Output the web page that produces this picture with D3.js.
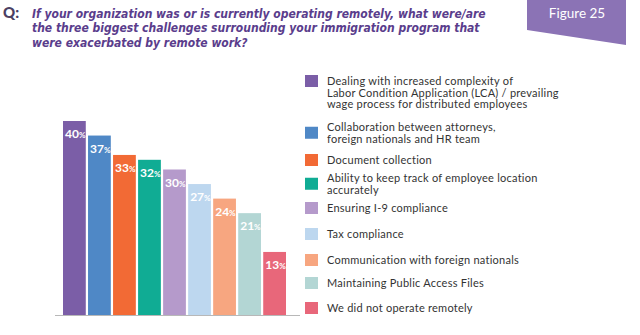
<!DOCTYPE html>
<html>
<head>
<meta charset="utf-8">
<script src="https://cdn.jsdelivr.net/npm/d3@7"></script>
<style>
  body { margin: 0; background: #fff; }
  svg { display: block; font-family: Lato, sans-serif; }
</style>
</head>
<body>
<svg id="chart" width="640" height="335"></svg>
<script>
// survey answers, one per bar
var categories = [
  ["Dealing with increased complexity of", "Labor Condition Application (LCA) / prevailing", "wage process for distributed employees"],
  ["Collaboration between attorneys,", "foreign nationals and HR team"],
  ["Document collection"],
  ["Ability to keep track of employee location", "accurately"],
  ["Ensuring I-9 compliance"],
  ["Tax compliance"],
  ["Communication with foreign nationals"],
  ["Maintaining Public Access Files"],
  ["We did not operate remotely"]
];
var values = [40, 37, 33, 32, 30, 27, 24, 21, 13];
var colors = ["#7b5ea7", "#4f88c6", "#f26a35", "#10ac94", "#b59acb", "#bdd7ef", "#f7a680", "#b3d6d4", "#e8677a"];

var titleLines = [
  "If your organization was or is currently operating remotely, what were/are",
  "the three biggest challenges surrounding your immigration program that",
  "were exacerbated by remote work?"
];
var figureLabel = "Figure 25";

var svg = d3.select("#chart");

// question header
svg.append("text")
    .attr("x", 3).attr("y", 18)
    .attr("fill", "#4b3f63")
    .style("font-weight", 900)
    .style("font-size", "15px")
    .text("Q:");

svg.append("g").selectAll("text")
    .data(titleLines)
  .enter().append("text")
    .attr("x", 32)
    .attr("y", function(d, i) { return 17.5 + i * 14.5; })
    .attr("fill", "#5a3d8c")
    .style("font-family", "'DejaVu Sans Condensed', 'DejaVu Sans', sans-serif")
    .style("font-stretch", "condensed")
    .style("font-weight", 700)
    .style("font-style", "italic")
    .style("font-size", "12px")
    .text(function(d) { return d; });

// figure tab
svg.append("polygon")
    .attr("points", "527,0 626,0 626,45 527,30")
    .attr("fill", "#8b73b5");
svg.append("text")
    .attr("x", 577).attr("y", 18)
    .attr("text-anchor", "middle")
    .attr("fill", "#fff")
    .style("font-size", "13.5px")
    .text(figureLabel);

// bars
var x = d3.scaleBand()
    .domain(d3.range(values.length))
    .range([63, 286])
    .paddingInner(0.09)
    .paddingOuter(0);

var y = d3.scaleLinear()
    .domain([0, 40])
    .range([315, 121]);

svg.append("line")
    .attr("x1", 55).attr("x2", 300)
    .attr("y1", 315.5).attr("y2", 315.5)
    .attr("stroke", "#b8b8b8")
    .attr("stroke-width", 1);

var bar = svg.append("g").selectAll("g")
    .data(values)
  .enter().append("g")
    .attr("transform", function(d, i) { return "translate(" + x(i) + ",0)"; });

bar.append("rect")
    .attr("y", function(d) { return y(d); })
    .attr("width", x.bandwidth())
    .attr("height", function(d) { return y(0) - y(d); })
    .attr("fill", function(d, i) { return colors[i]; });

var label = bar.append("text")
    .attr("x", 2)
    .attr("y", function(d) { return y(d) + 17; })
    .attr("fill", "#fff")
    .style("font-weight", 700);
label.append("tspan")
    .style("font-size", "12px")
    .text(function(d) { return d; });
label.append("tspan")
    .style("font-size", "8px")
    .text("%");

// legend
var legendY = [81, 127, 160, 178, 208, 234, 260, 283, 308];
var lineH = 11.5;

var item = svg.append("g").selectAll("g")
    .data(categories)
  .enter().append("g")
    .attr("transform", function(d, i) { return "translate(305," + legendY[i] + ")"; });

item.append("rect")
    .attr("x", 0)
    .attr("y", function(d) {
      // swatch sits on the first line for long entries, centred otherwise
      var mid = d.length > 2 ? 0 : (d.length - 1) * lineH / 2;
      return mid - 6;
    })
    .attr("width", 13)
    .attr("height", 12)
    .attr("fill", function(d, i) { return colors[i]; });

item.selectAll("text")
    .data(function(d) { return d; })
  .enter().append("text")
    .attr("x", 22)
    .attr("y", function(d, j) { return j * lineH + 4; })
    .attr("fill", "#333")
    .style("font-size", "11px")
    .style("letter-spacing", "0.25px")
    .text(function(d) { return d; });
</script>
</body>
</html>
